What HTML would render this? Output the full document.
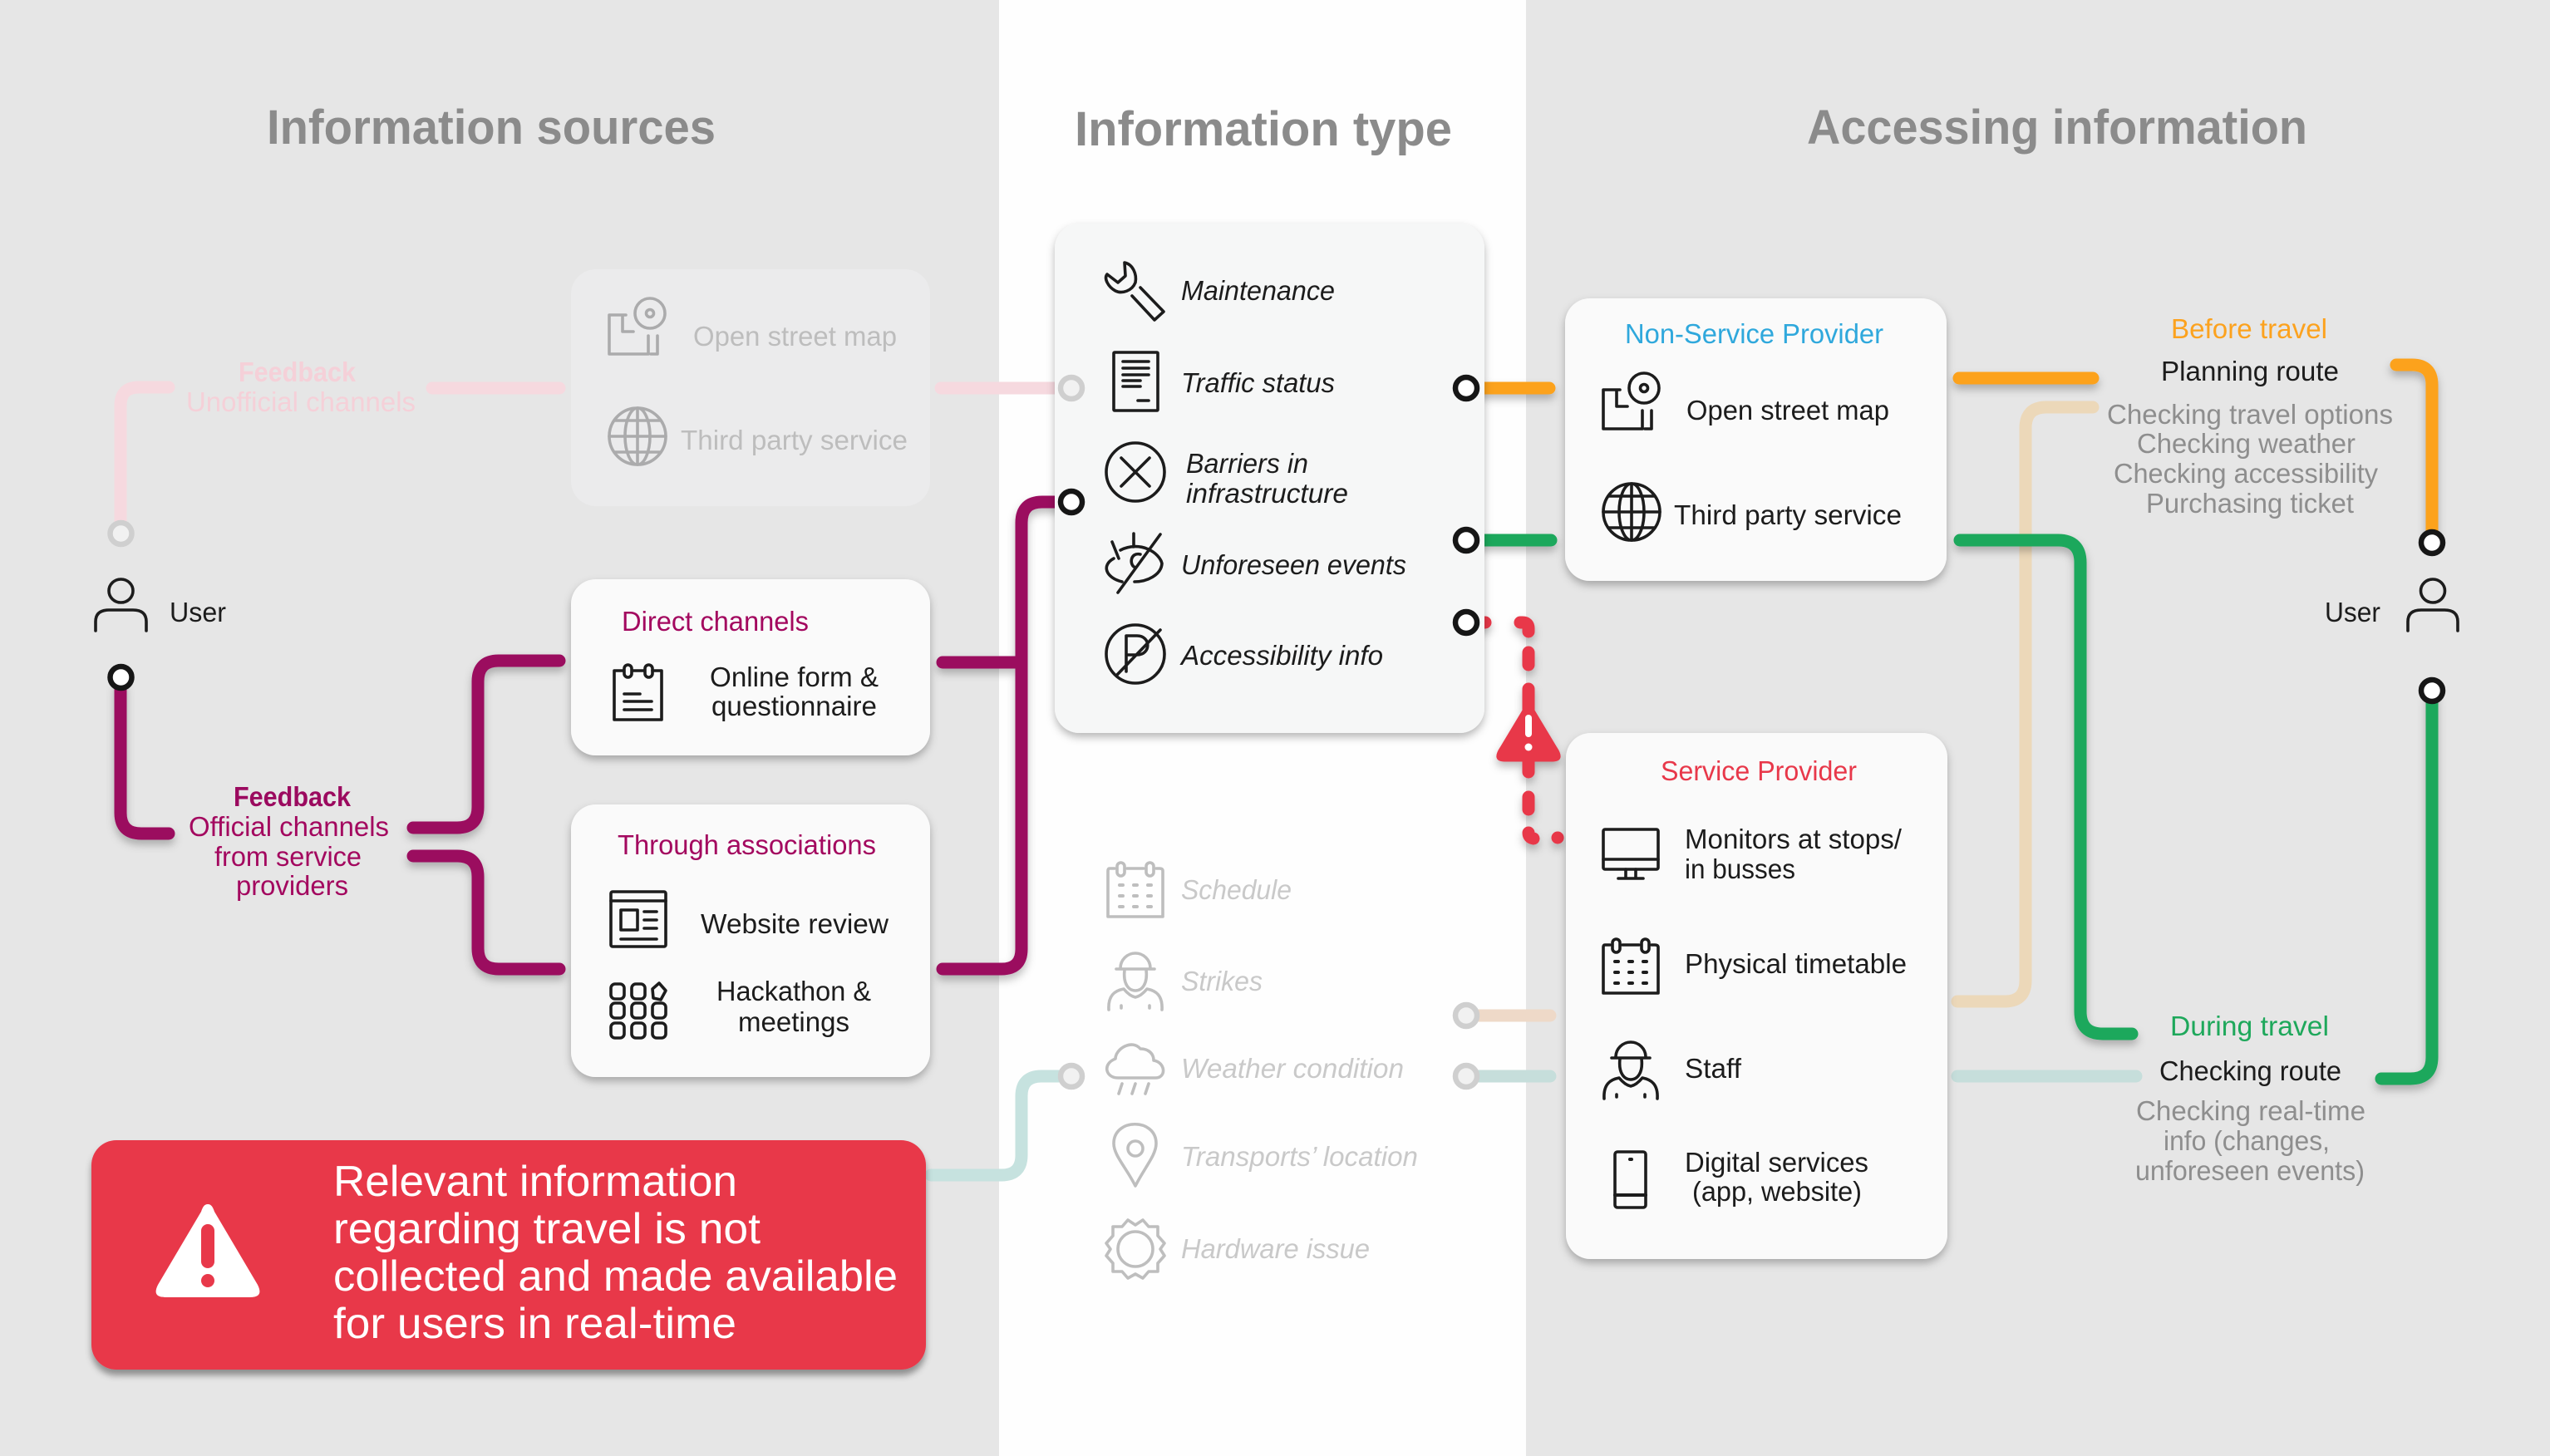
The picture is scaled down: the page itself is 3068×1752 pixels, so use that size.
<!DOCTYPE html>
<html lang="en">
<head>
<meta charset="utf-8">
<title>Information flow diagram</title>
<style>
html,body{margin:0;padding:0;background:#e6e6e6}
svg{display:block}
text{font-family:"Liberation Sans",sans-serif;font-size:33px;fill:#1c1c1c}
.h{font-size:58px;font-weight:bold;fill:#8b8b8b}
.i{font-style:italic}
.g{fill:#bdbdbd}
.gi{font-style:italic;fill:#c9c9c9}
.m{fill:#a3085f}
.mb{fill:#9b0a5f;font-weight:bold}
.p{fill:#f5d0d8}
.pb{fill:#f5d0d8;font-weight:bold}
.d{fill:#8e8e8e}
.r{font-size:52px;fill:#fff}
.ic{fill:none;stroke:#1c1c1c;stroke-width:3.6;stroke-linecap:round;stroke-linejoin:round}
.ln{fill:none;stroke-width:15;stroke-linecap:round;stroke-linejoin:round}
.dot{fill:#fff;stroke:#161616;stroke-width:6.5}
.gdot{fill:#f1f1f1;stroke:#cfcfcf;stroke-width:6.5}
</style>
</head>
<body>
<svg xmlns="http://www.w3.org/2000/svg" width="3068" height="1752" viewBox="0 0 3068 1752">
<defs>
<filter id="cs" x="-10%" y="-10%" width="120%" height="125%"><feDropShadow dx="0" dy="5" stdDeviation="5" flood-color="#000" flood-opacity=".28"/></filter>
<filter id="cs2" x="-10%" y="-10%" width="120%" height="125%"><feDropShadow dx="0" dy="7" stdDeviation="4" flood-color="#000" flood-opacity=".38"/></filter>
<filter id="ls" x="-20%" y="-20%" width="140%" height="140%" filterUnits="userSpaceOnUse"><feDropShadow dx="0" dy="6" stdDeviation="5" flood-color="#000" flood-opacity=".25"/></filter>
<g id="map">
<path d="M20 20H0V67H47V45M16 20V40H29M58 45V67H50"/>
<circle cx="49" cy="18" r="18"/><circle cx="49" cy="18" r="4.5"/>
</g>
<g id="globe">
<circle r="34"/><ellipse rx="15" ry="34"/><path d="M0-34V34M-34 0H34M-28-19H28M-28 19H28"/>
</g>
<g id="cal">
<path d="M8 8H2Q0 8 0 11V66H66V11Q66 8 62 8H58M23 8H43"/>
<rect x="11" y="1" width="9" height="16" rx="4.5"/><rect x="46" y="1" width="9" height="16" rx="4.5"/>
<path d="M14 28h4M31 28h4M48 28h4M14 41h4M31 41h4M48 41h4M14 54h4M31 54h4M48 54h4" stroke-width="4"/>
</g>
<g id="staff">
<path d="M15 17A18 18 0 0 1 51 17M10 18H56M20 19C18 36 25 44 33 44C41 44 48 36 46 19"/>
<path d="M1 67C0 50 8 44 19 42C24 48 28 51 33 52C38 51 42 48 47 42C58 44 66 50 65 67M16 62v3M50 62v3"/>
</g>
</defs>

<rect width="3068" height="1752" fill="#e6e6e6"/>
<rect x="1202" width="634" height="1752" fill="#fefefe"/>

<!-- headers -->
<text class="h" x="321" y="173" textLength="540" lengthAdjust="spacingAndGlyphs">Information sources</text>
<text class="h" x="1293" y="175" textLength="454" lengthAdjust="spacingAndGlyphs">Information type</text>
<text class="h" x="2174" y="173" textLength="602" lengthAdjust="spacingAndGlyphs">Accessing information</text>

<!-- lines below cards -->
<path class="ln" stroke="#f6d9df" d="M145 630V488Q145 466 167 466H203M520 467H673M1132 467H1284"/>
<path class="ln" stroke="#c6e2df" d="M1120 1414H1205Q1229 1414 1229 1390V1319Q1229 1295 1253 1295H1284"/>
<path class="ln" stroke="#ecd8b9" d="M2518 490H2462Q2437 490 2437 515V1180Q2437 1205 2412 1205H2355"/>
<path class="ln" stroke="#eed9c8" d="M1770 1222H1865"/>
<path class="ln" stroke="#c6dedb" d="M1770 1295H1865M2355 1295H2570"/>

<g filter="url(#ls)">
<path class="ln" stroke="#9b0a5f" d="M145 825V978Q145 1003 170 1003H203M497 996H550Q575 996 575 971V820Q575 795 600 795H673M497 1030H550Q575 1030 575 1055V1141Q575 1166 600 1166H673M1134 797H1229M1134 1166H1205Q1229 1166 1229 1142V629Q1229 604 1254 604H1284"/>
</g>
<g filter="url(#ls)">
<path class="ln" stroke="#fca21e" d="M1770 467H1864M2357 455H2518M2883 439H2902Q2926 439 2926 463V645"/>
<path class="ln" stroke="#1ea85b" d="M1770 650H1866M2358 650H2476Q2503 650 2503 677V1217Q2503 1244 2530 1244H2565M2926 838V1272Q2926 1298 2900 1298H2865"/>
</g>

<!-- red dashed -->
<g filter="url(#ls)">
<path class="ln" stroke="#e8384a" d="M1770 749H1787M1829 749H1832Q1839 749 1839 756V760M1839 785V800M1839 829V860M1839 910V929M1839 959V974M1839 1002Q1839 1008 1845 1009M1874 1008H1874.100"/>
<path d="M1839 845L1872 900Q1882 915 1868 915H1810Q1796 915 1806 900Z" fill="#e8384a" stroke="#e8384a" stroke-width="3" stroke-linejoin="round"/>
</g>
<rect x="1835" y="860" width="8" height="27" rx="4" fill="#fff"/><circle cx="1839" cy="899" r="4.5" fill="#fff"/>

<!-- cards -->
<rect x="687" y="324" width="432" height="285" rx="30" fill="#ebebec"/>
<rect x="687" y="697" width="432" height="212" rx="30" fill="#fafafa" filter="url(#cs)"/>
<rect x="687" y="968" width="432" height="328" rx="30" fill="#fafafa" filter="url(#cs)"/>
<rect x="1269" y="269" width="517" height="613" rx="30" fill="#f6f7f7" filter="url(#cs)"/>
<rect x="1883" y="359" width="459" height="340" rx="30" fill="#fafafa" filter="url(#cs)"/>
<rect x="1884" y="882" width="459" height="633" rx="30" fill="#fafafa" filter="url(#cs)"/>
<rect x="110" y="1372" width="1004" height="276" rx="30" fill="#e8384a" filter="url(#cs2)"/>

<!-- circles -->
<circle class="gdot" cx="145.500" cy="642" r="13"/>
<circle class="dot" cx="145.500" cy="815" r="13"/>
<circle class="gdot" cx="1289" cy="467" r="13"/>
<circle class="dot" cx="1289" cy="604" r="13"/>
<circle class="gdot" cx="1289" cy="1295" r="13"/>
<circle class="dot" cx="1764" cy="467" r="13"/>
<circle class="dot" cx="1764" cy="650" r="13"/>
<circle class="dot" cx="1764" cy="749" r="13"/>
<circle class="gdot" cx="1764" cy="1222" r="13"/>
<circle class="gdot" cx="1764" cy="1295" r="13"/>
<circle class="dot" cx="2926" cy="653" r="13"/>
<circle class="dot" cx="2926" cy="831" r="13"/>

<!-- persons -->
<g class="ic">
<ellipse cx="145.500" cy="711" rx="14.500" ry="14"/><path d="M115 759V748Q115 734 131 734H160Q176 734 176 748V759"/>
<ellipse cx="2927" cy="711" rx="14.500" ry="14"/><path d="M2897 759V748Q2897 734 2913 734H2941Q2957 734 2957 748V759"/>
</g>

<!-- ghost card icons -->
<g class="ic" opacity=".3">
<use href="#map" x="733" y="359"/>
<use href="#globe" x="767" y="525"/>
</g>

<!-- direct & through icons -->
<g class="ic">
<path d="M750 807H739V866H796V807H785M762 807H775"/><rect x="751" y="800" width="9" height="15" rx="4.500"/><rect x="776" y="800" width="9" height="15" rx="4.500"/>
<path d="M751 835H770M751 844H784M751 854H784"/>
<rect x="735" y="1073" width="66" height="66" rx="2"/><path d="M735 1084H801M747 1130H790"/><rect x="747" y="1095" width="20" height="24"/><path d="M775 1097H790M775 1107H790M775 1117H790"/>
<rect x="735" y="1184" width="16" height="18" rx="5"/><rect x="760" y="1184" width="16" height="18" rx="5"/><path d="M793 1183L801 1192L795 1203L786 1201L785 1190Z"/>
<rect x="735" y="1207" width="16" height="18" rx="5"/><rect x="760" y="1207" width="16" height="18" rx="5"/><rect x="785" y="1207" width="16" height="18" rx="5"/>
<rect x="735" y="1231" width="16" height="18" rx="5"/><rect x="760" y="1231" width="16" height="18" rx="5"/><rect x="785" y="1231" width="16" height="18" rx="5"/>
</g>

<!-- info type icons -->
<g class="ic">
<path d="M1353 316C1363 318 1368 330 1366 340C1362 350 1350 354 1342 350C1333 345 1328 335 1332 330L1345 340L1354 332Z"/>
<path d="M1372 346L1400 375L1389 385L1362 356"/>
<rect x="1340" y="424" width="53" height="70" rx="1"/><path d="M1351 435H1382M1351 443H1382M1351 451H1382M1351 458H1372M1351 465H1372M1369 482H1382"/>
<circle cx="1366" cy="568" r="35"/><path d="M1349 551L1383 585M1383 551L1349 585"/>
<path d="M1338 652L1346 672M1364 642V658M1340 672C1325 680 1330 695 1350 700M1348 662C1372 650 1395 665 1398 678C1397 692 1380 700 1365 700M1396 643L1345 713M1372 667C1360 664 1358 680 1366 683"/>
<circle cx="1366" cy="787" r="35"/><path d="M1355 808V765H1368C1385 765 1385 788 1368 788H1356M1343 813L1396 758"/>
</g>

<!-- ghost info type icons -->
<g class="ic" opacity=".28">
<use href="#cal" x="1333" y="1037"/>
<use href="#staff" x="1333" y="1148"/>
<path d="M1345 1297C1330 1297 1326 1280 1342 1274C1342 1262 1362 1250 1372 1262C1382 1262 1388 1268 1388 1276C1402 1278 1404 1297 1390 1297ZM1350 1304L1346 1316M1366 1304L1362 1316M1382 1304L1378 1316"/>
<path d="M1366 1427C1355 1405 1340 1390 1340 1376C1340 1345 1391 1345 1391 1376C1391 1390 1377 1405 1366 1427Z"/><circle cx="1366" cy="1382" r="9"/>
<circle cx="1366" cy="1503" r="21"/>
<path d="M1357 1468L1366 1474L1375 1468L1382 1476L1393 1476L1393 1487L1401 1496L1396 1503L1401 1511L1393 1520L1393 1530L1382 1530L1375 1538L1366 1533L1357 1538L1350 1530L1339 1530L1339 1520L1331 1511L1336 1503L1331 1496L1339 1487L1339 1476L1350 1476Z"/>
</g>

<!-- provider icons -->
<g class="ic">
<use href="#map" x="1929" y="449"/>
<use href="#globe" x="1963" y="616"/>
<rect x="1929" y="998" width="66" height="48" rx="2"/><path d="M1929 1034H1995M1956 1046V1056M1968 1046V1056M1947 1057H1977"/>
<use href="#cal" x="1929" y="1129"/>
<use href="#staff" x="1929" y="1255"/>
<rect x="1943" y="1386" width="37" height="67" rx="3"/><path d="M1943 1438H1980M1961 1395h2" stroke-width="4"/>
</g>

<!-- warning triangle -->
<path d="M250 1449C254 1449 256 1452 258 1458L310 1546C316 1558 310 1561 300 1561H200C190 1561 184 1558 190 1546L242 1458C244 1452 246 1449 250 1449Z" fill="#fff"/>
<rect x="242" y="1473" width="16" height="53" rx="8" fill="#e8384a"/><ellipse cx="250" cy="1541" rx="8" ry="8" fill="#e8384a"/>

<!-- left text -->
<text x="204" y="748" textLength="68" lengthAdjust="spacingAndGlyphs">User</text>
<text class="pb" x="287" y="459" textLength="141" lengthAdjust="spacingAndGlyphs">Feedback</text>
<text class="p" x="224" y="495" textLength="276" lengthAdjust="spacingAndGlyphs">Unofficial channels</text>
<text class="g" x="834" y="416" textLength="245" lengthAdjust="spacingAndGlyphs">Open street map</text>
<text class="g" x="819" y="541" textLength="273" lengthAdjust="spacingAndGlyphs">Third party service</text>
<text class="m" x="748" y="759" textLength="225" lengthAdjust="spacingAndGlyphs">Direct channels</text>
<text x="854" y="826" textLength="203" lengthAdjust="spacingAndGlyphs">Online form &amp;</text>
<text x="856" y="861" textLength="199" lengthAdjust="spacingAndGlyphs">questionnaire</text>
<text class="mb" x="281" y="970" textLength="141" lengthAdjust="spacingAndGlyphs">Feedback</text>
<text class="m" x="227" y="1006" textLength="241" lengthAdjust="spacingAndGlyphs">Official channels</text>
<text class="m" x="258" y="1042" textLength="177" lengthAdjust="spacingAndGlyphs">from service</text>
<text class="m" x="284" y="1077" textLength="135" lengthAdjust="spacingAndGlyphs">providers</text>
<text class="m" x="743" y="1028" textLength="311" lengthAdjust="spacingAndGlyphs">Through associations</text>
<text x="843" y="1123" textLength="226" lengthAdjust="spacingAndGlyphs">Website review</text>
<text x="862" y="1204" textLength="186" lengthAdjust="spacingAndGlyphs">Hackathon &amp;</text>
<text x="888" y="1241" textLength="134" lengthAdjust="spacingAndGlyphs">meetings</text>

<text class="r" x="401" y="1439" textLength="486" lengthAdjust="spacingAndGlyphs">Relevant information</text>
<text class="r" x="401" y="1496" textLength="514" lengthAdjust="spacingAndGlyphs">regarding travel is not</text>
<text class="r" x="401" y="1553" textLength="679" lengthAdjust="spacingAndGlyphs">collected and made available</text>
<text class="r" x="401" y="1610" textLength="485" lengthAdjust="spacingAndGlyphs">for users in real-time</text>

<!-- info type text -->
<text class="i" x="1421" y="361" textLength="185" lengthAdjust="spacingAndGlyphs">Maintenance</text>
<text class="i" x="1421" y="472" textLength="185" lengthAdjust="spacingAndGlyphs">Traffic status</text>
<text class="i" x="1427" y="569" textLength="147" lengthAdjust="spacingAndGlyphs">Barriers in</text>
<text class="i" x="1427" y="605" textLength="195" lengthAdjust="spacingAndGlyphs">infrastructure</text>
<text class="i" x="1421" y="691" textLength="271" lengthAdjust="spacingAndGlyphs">Unforeseen events</text>
<text class="i" x="1421" y="800" textLength="243" lengthAdjust="spacingAndGlyphs">Accessibility info</text>
<text class="gi" x="1421" y="1082" textLength="133" lengthAdjust="spacingAndGlyphs">Schedule</text>
<text class="gi" x="1421" y="1192" textLength="98" lengthAdjust="spacingAndGlyphs">Strikes</text>
<text class="gi" x="1421" y="1297" textLength="268" lengthAdjust="spacingAndGlyphs">Weather condition</text>
<text class="gi" x="1421" y="1403" textLength="285" lengthAdjust="spacingAndGlyphs">Transports’ location</text>
<text class="gi" x="1421" y="1514" textLength="227" lengthAdjust="spacingAndGlyphs">Hardware issue</text>

<!-- provider text -->
<text x="1955" y="413" textLength="311" lengthAdjust="spacingAndGlyphs" style="fill:#2fa8dc">Non-Service Provider</text>
<text x="2029" y="505" textLength="244" lengthAdjust="spacingAndGlyphs">Open street map</text>
<text x="2014" y="631" textLength="274" lengthAdjust="spacingAndGlyphs">Third party service</text>
<text x="1998" y="939" textLength="236" lengthAdjust="spacingAndGlyphs" style="fill:#e8384a">Service Provider</text>
<text x="2027" y="1021" textLength="261" lengthAdjust="spacingAndGlyphs">Monitors at stops/</text>
<text x="2027" y="1057" textLength="133" lengthAdjust="spacingAndGlyphs">in busses</text>
<text x="2027" y="1171" textLength="267" lengthAdjust="spacingAndGlyphs">Physical timetable</text>
<text x="2027" y="1297" textLength="68" lengthAdjust="spacingAndGlyphs">Staff</text>
<text x="2027" y="1410" textLength="221" lengthAdjust="spacingAndGlyphs">Digital services</text>
<text x="2036" y="1445" textLength="204" lengthAdjust="spacingAndGlyphs">(app, website)</text>

<!-- right text -->
<text x="2612" y="407" textLength="188" lengthAdjust="spacingAndGlyphs" style="fill:#fca21e">Before travel</text>
<text x="2600" y="458" textLength="214" lengthAdjust="spacingAndGlyphs">Planning route</text>
<text class="d" x="2535" y="510" textLength="344" lengthAdjust="spacingAndGlyphs">Checking travel options</text>
<text class="d" x="2571" y="545" textLength="263" lengthAdjust="spacingAndGlyphs">Checking weather</text>
<text class="d" x="2543" y="581" textLength="318" lengthAdjust="spacingAndGlyphs">Checking accessibility</text>
<text class="d" x="2582" y="617" textLength="250" lengthAdjust="spacingAndGlyphs">Purchasing ticket</text>
<text x="2797" y="748" textLength="67" lengthAdjust="spacingAndGlyphs">User</text>
<text x="2611" y="1246" textLength="191" lengthAdjust="spacingAndGlyphs" style="fill:#1ea85b">During travel</text>
<text x="2598" y="1300" textLength="219" lengthAdjust="spacingAndGlyphs">Checking route</text>
<text class="d" x="2570" y="1348" textLength="276" lengthAdjust="spacingAndGlyphs">Checking real-time</text>
<text class="d" x="2603" y="1384" textLength="200" lengthAdjust="spacingAndGlyphs">info (changes,</text>
<text class="d" x="2569" y="1420" textLength="276" lengthAdjust="spacingAndGlyphs">unforeseen events)</text>
</svg>
</body>
</html>
